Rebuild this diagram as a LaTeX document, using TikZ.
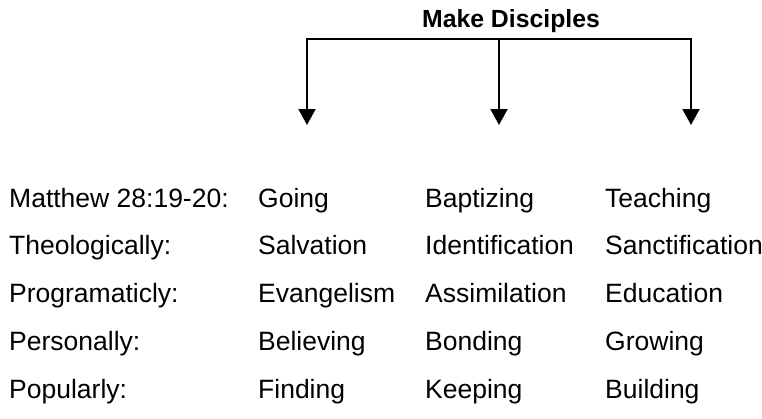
\documentclass[tikz,border=0pt]{standalone}
\usepackage{fontspec}
\setmainfont{Liberation Sans}
\usetikzlibrary{arrows.meta}

\begin{document}
\begin{tikzpicture}[x=1bp,y=-1bp,
  txt/.style={anchor=base west,inner sep=0pt,font=\fontsize{26.5bp}{30bp}\selectfont},
  link/.style={line width=2bp,line cap=rect}]
 \useasboundingbox (0,0) rectangle (762,418);
 \node[anchor=base,inner sep=0pt,font=\fontsize{24.8bp}{28bp}\selectfont\bfseries] (title) at (511,27) {Make Disciples}; %title
 \coordinate (la) at (307,39); \coordinate (lb) at (499,39); \coordinate (lc) at (691,39); %branch
 \coordinate (ta) at (307,125); \coordinate (tb) at (499,125); \coordinate (tc) at (691,125); %tips
 \draw[link] (la)--(lc);
 \foreach \c in {a,b,c}
  \draw[link,-{Triangle[length=16bp,width=17bp]}] (l\c)--(t\c); %arrows
 \foreach \y/\l/\p/\q/\r [count=\i] in {207/Matthew 28:19-20:/Going/Baptizing/Teaching,
   254/Theologically:/Salvation/Identification/Sanctification,
   302/Programaticly:/Evangelism/Assimilation/Education,
   350/Personally:/Believing/Bonding/Growing,
   398/Popularly:/Finding/Keeping/Building}{
  \node[txt] (lab\i) at (9,\y) {\l};
  \node[txt] (a\i) at (258,\y) {\p};
  \node[txt] (b\i) at (425,\y) {\q};
  \node[txt] (c\i) at (605,\y) {\r};
 }
\end{tikzpicture}
\end{document}
